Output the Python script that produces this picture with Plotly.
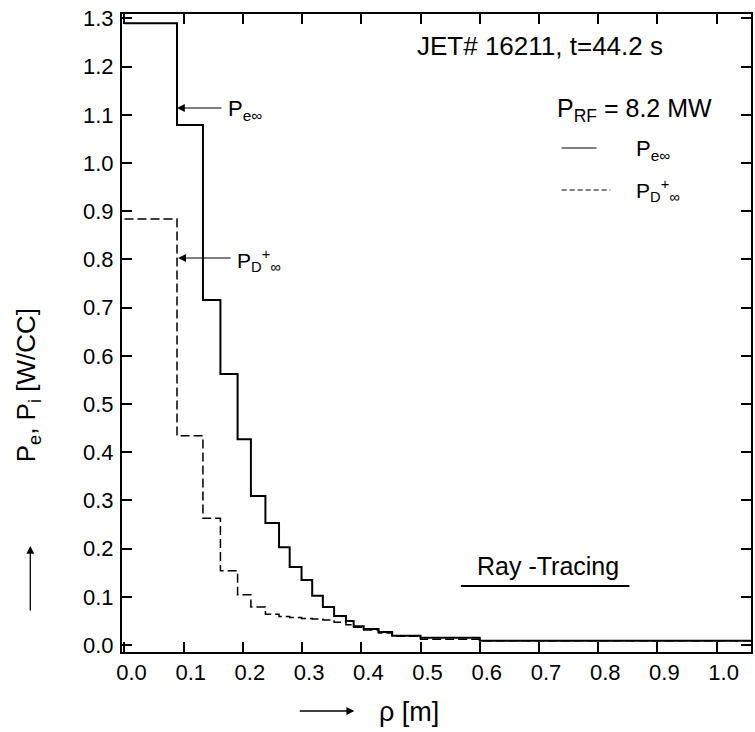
import plotly.graph_objects as go

# ---- data ----
rho_edges = [0.0, 0.0887, 0.1325, 0.162, 0.191, 0.2135, 0.238, 0.261, 0.279, 0.299,
             0.317, 0.335, 0.354, 0.374, 0.387, 0.404, 0.429, 0.452, 0.50, 0.60, 1.058]
p_e = [1.29, 1.079, 0.716, 0.562, 0.427, 0.309, 0.253, 0.203, 0.162, 0.135,
       0.102, 0.079, 0.060, 0.050, 0.039, 0.033, 0.027, 0.019, 0.015, 0.009]
p_d = [0.884, 0.434, 0.263, 0.154, 0.104, 0.079, 0.064, 0.059, 0.057, 0.055,
       0.054, 0.052, 0.047, 0.042, 0.037, 0.031, 0.025, 0.018, 0.012, 0.009]
x_ticks = [0.0, 0.1, 0.2, 0.3, 0.4, 0.5, 0.6, 0.7, 0.8, 0.9, 1.0]
y_ticks = [0.0, 0.1, 0.2, 0.3, 0.4, 0.5, 0.6, 0.7, 0.8, 0.9, 1.0, 1.1, 1.2, 1.3]

# ---- geometry helpers (pixel -> data / paper) ----
W, H = 755, 732
L, R, T, B = 122, 753, 14, 652
X0PX, XS = 124.5, 594.0
Y0PX, YS = 645.0, 482.0


def dx(px):
    return (px - X0PX) / XS


def dy(py):
    return (Y0PX - py) / YS


def pxp(px):
    return (px - L) / (R - L)


def pyp(py):
    return (B - py) / (B - T)


FONT = "Liberation Sans"

fig = go.Figure()
fig.add_trace(go.Scatter(x=rho_edges, y=p_e + [p_e[-1]], mode="lines", line_shape="hv",
                         line=dict(color="black", width=2), showlegend=False))
fig.add_trace(go.Scatter(x=rho_edges, y=p_d + [p_d[-1]], mode="lines", line_shape="hv",
                         line=dict(color="black", width=1.5, dash="9px,4px"), showlegend=False))

axis_common = dict(showline=True, linewidth=2, linecolor="black", mirror="ticks",
                   ticks="inside", ticklen=10, tickwidth=1.5, tickcolor="black",
                   showgrid=False, zeroline=False,
                   tickfont=dict(family=FONT, size=22, color="black"))

fig.update_xaxes(range=[dx(L), dx(R)], tickvals=x_ticks,
                 ticktext=[f"{v:.1f}" for v in x_ticks], ticklabelshift=7,
                 **axis_common)
fig.update_yaxes(range=[dy(B), dy(T)], tickvals=y_ticks,
                 ticktext=[f"{v:.1f}" for v in y_ticks], ticklabelstandoff=2, **axis_common)

ann = []
# top-right texts
ann.append(dict(x=pxp(416), y=pyp(46), xref="paper", yref="paper", xanchor="left", yanchor="middle",
                text="JET# 16211, t=44.2 s", showarrow=False,
                font=dict(family=FONT, size=26, color="black")))
ann.append(dict(x=pxp(556), y=pyp(110), xref="paper", yref="paper", xanchor="left", yanchor="middle",
                text="P<sub>RF</sub> = 8.2 MW", showarrow=False,
                font=dict(family=FONT, size=25, color="black")))
ann.append(dict(x=pxp(636), y=pyp(150), xref="paper", yref="paper", xanchor="left", yanchor="middle",
                text="P<sub>e∞</sub>", showarrow=False,
                font=dict(family=FONT, size=22, color="black")))
ann.append(dict(x=pxp(636), y=pyp(190), xref="paper", yref="paper", xanchor="left", yanchor="middle",
                text="P<sub>D</sub><sup>+</sup><sub>∞</sub>", showarrow=False,
                font=dict(family=FONT, size=21, color="black")))
# arrows pointing at the curves
ann.append(dict(x=rho_edges[1], y=dy(108), xref="x", yref="y", ax=46, ay=0,
                text="", showarrow=True, arrowhead=2, arrowsize=1.3, arrowwidth=1.2,
                arrowcolor="black"))
ann.append(dict(x=rho_edges[1] + dx(226) - dx(177.2), y=dy(110), xref="x", yref="y",
                xanchor="left", yanchor="middle", text="P<sub>e∞</sub>", showarrow=False,
                font=dict(family=FONT, size=22, color="black")))
ann.append(dict(x=rho_edges[1] + 0.002, y=dy(258), xref="x", yref="y", ax=54, ay=0,
                text="", showarrow=True, arrowhead=2, arrowsize=1.3, arrowwidth=1.2,
                arrowcolor="black"))
ann.append(dict(x=rho_edges[1] + dx(235) - dx(177.2), y=dy(260), xref="x", yref="y",
                xanchor="left", yanchor="middle", text="P<sub>D</sub><sup>+</sup><sub>∞</sub>",
                showarrow=False, font=dict(family=FONT, size=21, color="black")))
# Ray-Tracing label
ann.append(dict(x=pxp(549), y=pyp(566), xref="paper", yref="paper", xanchor="center", yanchor="middle",
                text="Ray -Tracing", showarrow=False,
                font=dict(family=FONT, size=25, color="black")))
# axis titles
ann.append(dict(x=pxp(27), y=pyp(385), xref="paper", yref="paper", xanchor="center", yanchor="middle",
                text="P<sub>e</sub>, P<sub>i</sub> [W/CC]", textangle=-90, showarrow=False,
                font=dict(family=FONT, size=26, color="black")))
ann.append(dict(x=pxp(30), y=pyp(546), xref="paper", yref="paper", ax=0, ay=66,
                text="", showarrow=True, arrowhead=2, arrowsize=1.2, arrowwidth=1.3,
                arrowcolor="black"))
ann.append(dict(x=pxp(355), y=pyp(711), xref="paper", yref="paper", ax=-56, ay=0,
                text="", showarrow=True, arrowhead=2, arrowsize=1.2, arrowwidth=1.3,
                arrowcolor="black"))
ann.append(dict(x=pxp(378), y=pyp(712), xref="paper", yref="paper", xanchor="left", yanchor="middle",
                text="ρ [m]", showarrow=False,
                font=dict(family=FONT, size=27, color="black")))

shapes = [
    dict(type="line", xref="paper", yref="paper", x0=pxp(563), x1=pxp(598), y0=pyp(148), y1=pyp(148),
         line=dict(color="black", width=1.2)),
    dict(type="line", xref="paper", yref="paper", x0=pxp(563), x1=pxp(612), y0=pyp(190), y1=pyp(190),
         line=dict(color="black", width=1.2, dash="5px,3px")),
    dict(type="line", xref="paper", yref="paper", x0=pxp(462), x1=pxp(631), y0=pyp(586), y1=pyp(586),
         line=dict(color="black", width=2)),
]

fig.update_layout(width=W, height=H, margin=dict(l=L, r=W - R, t=T, b=H - B, pad=0),
                  paper_bgcolor="white", plot_bgcolor="white",
                  annotations=ann, shapes=shapes, showlegend=False,
                  font=dict(family=FONT, color="black"))

fig.write_html("out.html")
